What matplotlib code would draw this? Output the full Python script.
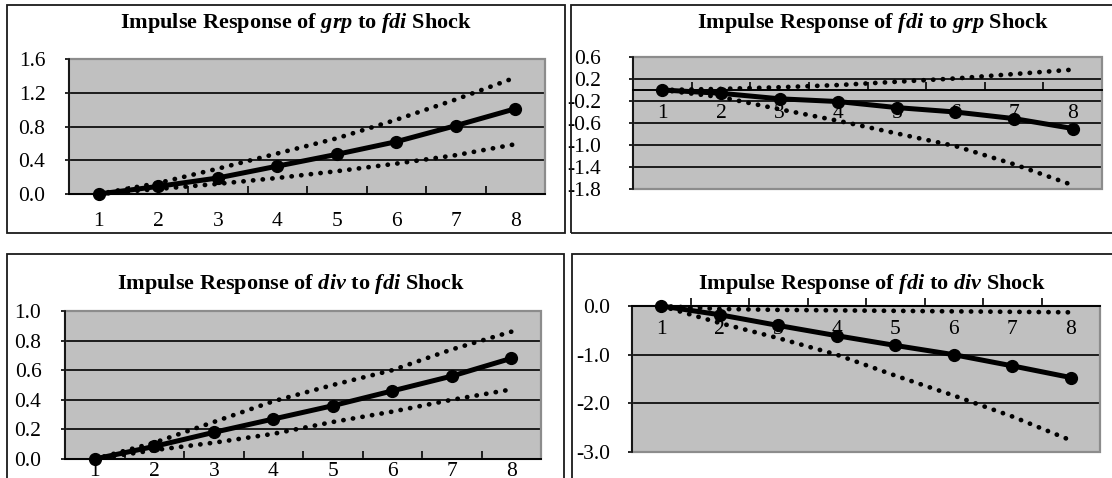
import matplotlib
matplotlib.use("Agg")
import matplotlib.pyplot as plt
from matplotlib.patches import Rectangle

plt.rcParams['font.family'] = ['Liberation Serif', 'DejaVu Serif']
plt.rcParams['axes.unicode_minus'] = False
plt.rcParams['mathtext.fontset'] = 'custom'
plt.rcParams['mathtext.rm'] = 'Liberation Serif:bold'
plt.rcParams['mathtext.it'] = 'Liberation Serif:bold:italic'
plt.rcParams['mathtext.bf'] = 'Liberation Serif:bold'

# periods after the shock
steps = [1, 2, 3, 4, 5, 6, 7, 8]

# response of grp to fdi shock (point estimate, upper / lower band)
grp_fdi = [0.0, 0.09, 0.19, 0.33, 0.47, 0.62, 0.81, 1.01]
grp_fdi_hi = [0.0, 0.13, 0.30, 0.48, 0.66, 0.88, 1.12, 1.38]
grp_fdi_lo = [0.0, 0.06, 0.12, 0.19, 0.27, 0.36, 0.46, 0.59]

# response of fdi to grp shock
fdi_grp = [0.0, -0.06, -0.16, -0.21, -0.32, -0.40, -0.52, -0.70]
fdi_grp_hi = [0.0, 0.02, 0.05, 0.09, 0.15, 0.21, 0.29, 0.37]
fdi_grp_lo = [0.0, -0.13, -0.35, -0.56, -0.79, -1.02, -1.35, -1.73]

# response of div to fdi shock
div_fdi = [0.0, 0.085, 0.18, 0.27, 0.36, 0.46, 0.56, 0.68]
div_fdi_hi = [0.0, 0.11, 0.25, 0.39, 0.50, 0.60, 0.74, 0.86]
div_fdi_lo = [0.0, 0.06, 0.11, 0.17, 0.25, 0.32, 0.40, 0.47]

# response of fdi to div shock
fdi_div = [0.0, -0.18, -0.40, -0.61, -0.81, -1.00, -1.23, -1.47]
fdi_div_hi = [0.0, -0.06, -0.08, -0.09, -0.10, -0.11, -0.12, -0.13]
fdi_div_lo = [0.0, -0.35, -0.66, -1.00, -1.43, -1.84, -2.27, -2.76]

W, H = 1112, 478
fig = plt.figure(figsize=(W / 100, H / 100), dpi=100)


def px_box(x0, y0, x1, y1):
    # pixel box (top-left origin) -> figure fraction rect
    return [x0 / W, 1 - y1 / H, (x1 - x0) / W, (y1 - y0) / H]


# chart area frames
for x0, y0, x1, y1 in [(7, 5, 565, 233), (571, 5, 1120, 233),
                       (7, 254, 564, 490), (572, 254, 1120, 490)]:
    r = px_box(x0, y0, x1, y1)
    fig.add_artist(Rectangle((r[0], r[1]), r[2], r[3], transform=fig.transFigure,
                             fill=False, edgecolor='#1a1a1a', lw=1.3))

panels = [
    dict(box=(69, 59, 545, 194), title=("grp", "fdi"), tpos=(296, 23),
         ys=(grp_fdi, grp_fdi_hi, grp_fdi_lo), ylim=(0, 1.6), step=0.4,
         ypad=14, xpad=13),
    dict(box=(633, 57, 1102, 189), title=("fdi", "grp"), tpos=(873, 23),
         ys=(fdi_grp, fdi_grp_hi, fdi_grp_lo), ylim=(-1.8, 0.6), step=0.4,
         ypad=20, xpad=10),
    dict(box=(65, 311, 541, 459), title=("div", "fdi"), tpos=(291, 284),
         ys=(div_fdi, div_fdi_hi, div_fdi_lo), ylim=(0, 1.0), step=0.2,
         ypad=14, xpad=2),
    dict(box=(632, 306, 1100, 452), title=("fdi", "div"), tpos=(872, 284),
         ys=(fdi_div, fdi_div_hi, fdi_div_lo), ylim=(-3.0, 0.0), step=1.0,
         ypad=13, xpad=10),
]

for p in panels:
    ax = fig.add_axes(px_box(*p['box']))
    ax.set_facecolor('#c0c0c0')
    mid, hi, lo = p['ys']
    for band in (hi, lo):
        ax.plot(steps, band, color='black', lw=3.4, linestyle=(0, (0.05, 2.0)),
                dash_capstyle='round', clip_on=False, zorder=3)
    ax.plot(steps, mid, color='black', lw=3.6, marker='o', markersize=8.5,
            clip_on=False, zorder=4)

    lo_y, hi_y = p['ylim']
    n = int(round((hi_y - lo_y) / p['step']))
    ax.set_ylim(lo_y, hi_y)
    ax.set_yticks([lo_y + i * p['step'] for i in range(n + 1)])
    ax.yaxis.set_major_formatter(plt.FormatStrFormatter('%.1f'))
    ax.yaxis.grid(True, color='black', lw=1.2)
    ax.set_axisbelow(True)
    ax.tick_params(axis='y', direction='out', length=3, width=1.2,
                   pad=p['ypad'], labelsize=15.5)

    ax.set_xlim(0.5, 8.5)
    ax.set_xticks(steps)
    ax.set_xticks([s + 0.5 for s in steps[:-1]], minor=True)
    ax.tick_params(axis='x', which='major', length=0, pad=p['xpad'],
                   labelsize=15.5)
    ax.tick_params(axis='x', which='minor', direction='in', length=6, width=1.2)

    for s in ('top', 'right'):
        ax.spines[s].set_visible(False)
    ax.spines['left'].set_color('black')
    ax.spines['left'].set_linewidth(1.2)
    ax.spines['bottom'].set_position(('data', 0))
    ax.spines['bottom'].set_color('black')
    ax.spines['bottom'].set_linewidth(1.4)
    ax.spines['bottom'].set_zorder(2.5)
    ax.add_patch(Rectangle((0, 0), 1, 1, transform=ax.transAxes, fill=False,
                           edgecolor='#8c8c8c', lw=1.6, clip_on=False, zorder=2))

    a, b = p['title']
    tx, ty = p['tpos']
    fig.text(tx / W, 1 - ty / H,
             "Impulse Response of $%s$ to $%s$ Shock" % (a, b),
             ha='center', va='center', fontsize=16, fontweight='bold')

fig.savefig('out.png', dpi=100)
